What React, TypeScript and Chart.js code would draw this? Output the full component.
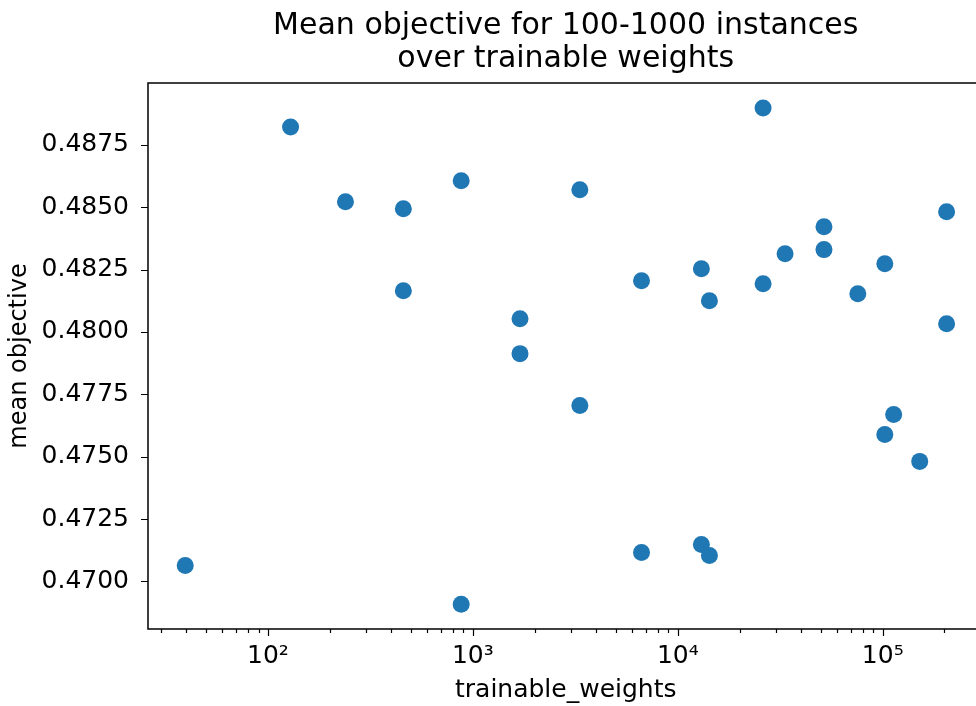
import React, { useEffect, useRef } from "react";
import { Chart, registerables } from "chart.js";

Chart.register(...registerables);

const titleLines = ["Mean objective for 100-1000 instances", "over trainable weights"];
const xLabel = "trainable_weights";
const yLabel = "mean objective";

const trainableWeights = [
  39.5, 129, 239, 458, 458, 877, 877, 1698, 1698, 3326, 3326, 6650, 6650,
  13030, 13030, 14260, 14260, 26060, 26060, 33360, 51640, 51640, 75530,
  102300, 102300, 113000, 151400, 204800, 204800,
];
const meanObjective = [
  0.47064, 0.48822, 0.48522, 0.48494, 0.48165, 0.48606, 0.46908, 0.48053,
  0.47913, 0.4857, 0.47705, 0.48205, 0.47116, 0.48253, 0.47148, 0.48125,
  0.47104, 0.48898, 0.48193, 0.48313, 0.48422, 0.4833, 0.48153, 0.48273,
  0.47589, 0.47669, 0.47481, 0.48482, 0.48033,
];
const xMajorTicks = [100, 1000, 10000, 100000];
const xTickLabels = ["10²", "10³", "10⁴", "10⁵"];
const yTicks = [0.47, 0.4725, 0.475, 0.4775, 0.48, 0.4825, 0.485, 0.4875];

const X_MIN = 26;
const X_MAX = 310000;
const Y_MIN = 0.46809;
const Y_MAX = 0.48998;

const FONT = "'DejaVu Sans', sans-serif";

const framePlugin = {
  id: "frame",
  afterDraw(chart: any) {
    const { ctx, chartArea } = chart;
    const { left, right, top, bottom } = chartArea;
    const x = chart.scales.x;
    const y = chart.scales.y;
    ctx.save();
    ctx.strokeStyle = "#000";
    ctx.lineWidth = 1.5;
    ctx.strokeRect(left, top, right - left, bottom - top);
    ctx.lineWidth = 1.2;
    ctx.beginPath();
    for (const v of yTicks) {
      const py = Math.round(y.getPixelForValue(v)) + 0.5;
      ctx.moveTo(left - 7, py);
      ctx.lineTo(left, py);
    }
    for (let e = 1; e <= 5; e++) {
      for (let k = 1; k <= 9; k++) {
        const v = k * Math.pow(10, e);
        if (v < X_MIN || v > X_MAX) continue;
        const px = Math.round(x.getPixelForValue(v)) + 0.5;
        const len = k === 1 ? 7 : 4;
        ctx.moveTo(px, bottom);
        ctx.lineTo(px, bottom + len);
      }
    }
    ctx.stroke();
    ctx.restore();
  },
};

export default function App() {
  const ref = useRef<HTMLCanvasElement>(null);
  useEffect(() => {
    const canvas = ref.current!;
    const chart = new Chart(canvas, {
      type: "scatter",
      data: {
        datasets: [
          {
            data: trainableWeights.map((w, i) => ({ x: w, y: meanObjective[i] })),
            backgroundColor: "#1f77b4",
            borderWidth: 0,
            pointRadius: 8.5,
            pointHoverRadius: 8.5,
          },
        ],
      },
      options: {
        animation: false,
        responsive: false,
        devicePixelRatio: 1,
        layout: { padding: { left: 0, right: 5, top: 0, bottom: 0 } },
        plugins: {
          legend: { display: false },
          tooltip: { enabled: false },
          title: {
            display: true,
            fullSize: false,
            text: titleLines,
            color: "#000",
            font: { family: FONT, size: 30, weight: "normal", lineHeight: 1.1 },
            padding: { top: 9.5, bottom: 7.5 },
          },
        },
        scales: {
          x: {
            type: "logarithmic",
            min: X_MIN,
            max: X_MAX,
            afterBuildTicks: (s: any) => {
              s.ticks = xMajorTicks.map((v) => ({ value: v }));
            },
            afterFit: (s: any) => {
              s.height = 77;
            },
            grid: { display: false, drawTicks: false },
            border: { display: false },
            ticks: {
              autoSkip: false,
              maxRotation: 0,
              padding: 12,
              color: "#000",
              font: { family: FONT, size: 25 },
              callback: (v: any) => {
                const i = xMajorTicks.indexOf(Number(v));
                return i >= 0 ? xTickLabels[i] : "";
              },
            },
            title: {
              display: true,
              text: xLabel,
              color: "#000",
              font: { family: FONT, size: 25 },
              padding: { top: 0, bottom: 1 },
            },
          },
          y: {
            type: "linear",
            min: Y_MIN,
            max: Y_MAX,
            afterBuildTicks: (s: any) => {
              s.ticks = yTicks.map((v) => ({ value: v }));
            },
            afterFit: (s: any) => {
              s.width = 148;
            },
            grid: { display: false, drawTicks: false },
            border: { display: false },
            ticks: {
              padding: 19,
              color: "#000",
              font: { family: FONT, size: 25 },
              callback: (v: any) => Number(v).toFixed(4),
            },
            title: {
              display: true,
              text: yLabel,
              color: "#000",
              font: { family: FONT, size: 24 },
              padding: { top: 5, bottom: 0 },
            },
          },
        },
      },
      plugins: [framePlugin],
    });
    return () => chart.destroy();
  }, []);
  return (
    <div
      style={{
        position: "absolute",
        left: 0,
        top: 0,
        width: 976,
        height: 706,
        overflow: "hidden",
        background: "#fff",
      }}
    >
      <canvas ref={ref} width={992} height={706} style={{ display: "block" }} />
    </div>
  );
}
